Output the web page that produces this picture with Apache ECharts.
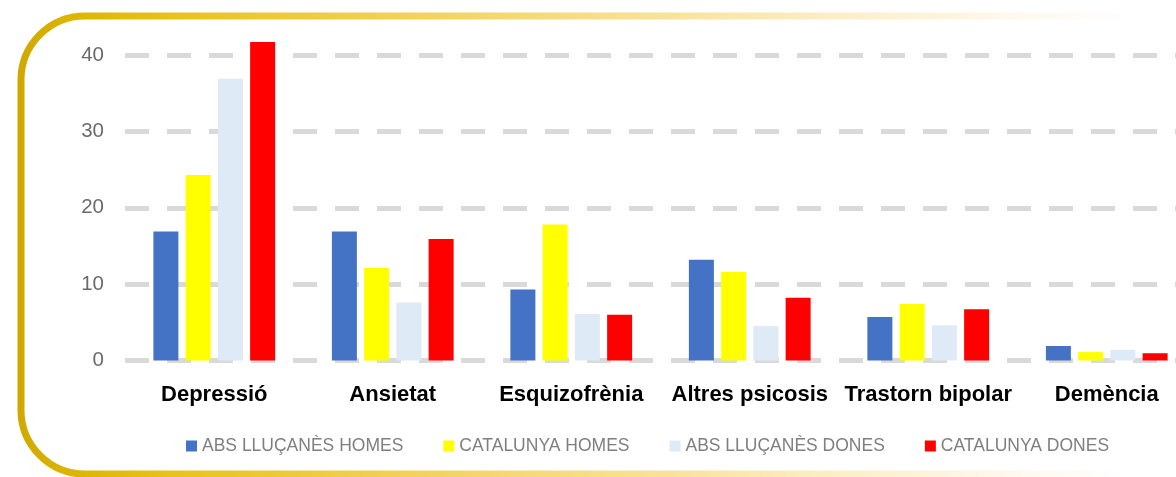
<!DOCTYPE html>
<html>
<head>
<meta charset="utf-8">
<script src="https://cdn.jsdelivr.net/npm/echarts@6/dist/echarts.min.js"></script>
<style>html,body{margin:0;padding:0;background:#fff;overflow:hidden}#c{width:1200px;height:477px}</style>
</head>
<body>
<div id="c"></div>
<script>
const categories = ['Depressió', 'Ansietat', 'Esquizofrènia', 'Altres psicosis', 'Trastorn bipolar', 'Demència'];
const seriesNames = ['ABS LLUÇANÈS HOMES', 'CATALUNYA HOMES', 'ABS LLUÇANÈS DONES', 'CATALUNYA DONES'];
const absHomes = [16.9, 16.9, 9.3, 13.2, 5.7, 1.9];
const catHomes = [24.3, 12.1, 17.8, 11.6, 7.4, 1.1];
const absDones = [36.9, 7.6, 6.1, 4.5, 4.6, 1.4];
const catDones = [41.7, 15.9, 6.0, 8.2, 6.7, 0.95];
const yTicks = [0, 10, 20, 30, 40];
const colors = ['#4472C4', '#FFFF00', '#DEEAF6', '#FF0000'];

const chart = echarts.init(document.getElementById('c'), null, {renderer: 'canvas'});
const values = [absHomes, catHomes, absDones, catDones];
const FONT = '"Liberation Sans", Arial, sans-serif';

chart.setOption({
  animation: false,
  textStyle: {fontFamily: FONT},
  graphic: [{
    type: 'rect',
    silent: true,
    z: -10,
    shape: {x: 21, y: 16, width: 1230, height: 458, r: 64},
    style: {
      fill: 'transparent',
      lineWidth: 7,
      stroke: {
        type: 'linear', x: 0, y: 0, x2: 1176, y2: 0, global: true,
        colorStops: [
          {offset: 0, color: '#cca300'},
          {offset: 0.06, color: '#ddb500'},
          {offset: 0.15, color: '#e9c31c'},
          {offset: 0.35, color: '#f2d259'},
          {offset: 0.55, color: '#f8e194'},
          {offset: 0.7, color: '#fcedc4'},
          {offset: 0.85, color: '#fff8ea'},
          {offset: 0.96, color: '#ffffff'}
        ]
      }
    }
  }],
  grid: {left: 125, right: 4, top: 55, bottom: 116.5, containLabel: false},
  legend: {
    left: 181, top: 432,
    itemWidth: 11, itemHeight: 11, itemGap: 40,
    icon: 'rect',
    textStyle: {fontSize: 17.5, color: '#7f7f7f', fontFamily: FONT},
    data: seriesNames
  },
  xAxis: {
    type: 'category',
    data: categories,
    axisLine: {show: false},
    axisTick: {show: false},
    axisLabel: {fontSize: 22, fontWeight: 'bold', color: '#000', margin: 23, fontFamily: FONT, interval: 0}
  },
  yAxis: {
    type: 'value',
    min: yTicks[0], max: yTicks[yTicks.length - 1], interval: 10,
    axisLine: {show: false},
    axisTick: {show: false},
    axisLabel: {fontSize: 20.5, color: '#6b6b6b', margin: 21, fontFamily: FONT},
    splitLine: {show: true, lineStyle: {color: '#d9d9d9', width: 5, type: [24, 18]}}
  },
  series: seriesNames.map((n, i) => ({
    name: n,
    type: 'bar',
    clip: false,
    data: values[i],
    barWidth: 25,
    barGap: '29%',
    itemStyle: {color: colors[i]}
  }))
});
</script>
</body>
</html>
